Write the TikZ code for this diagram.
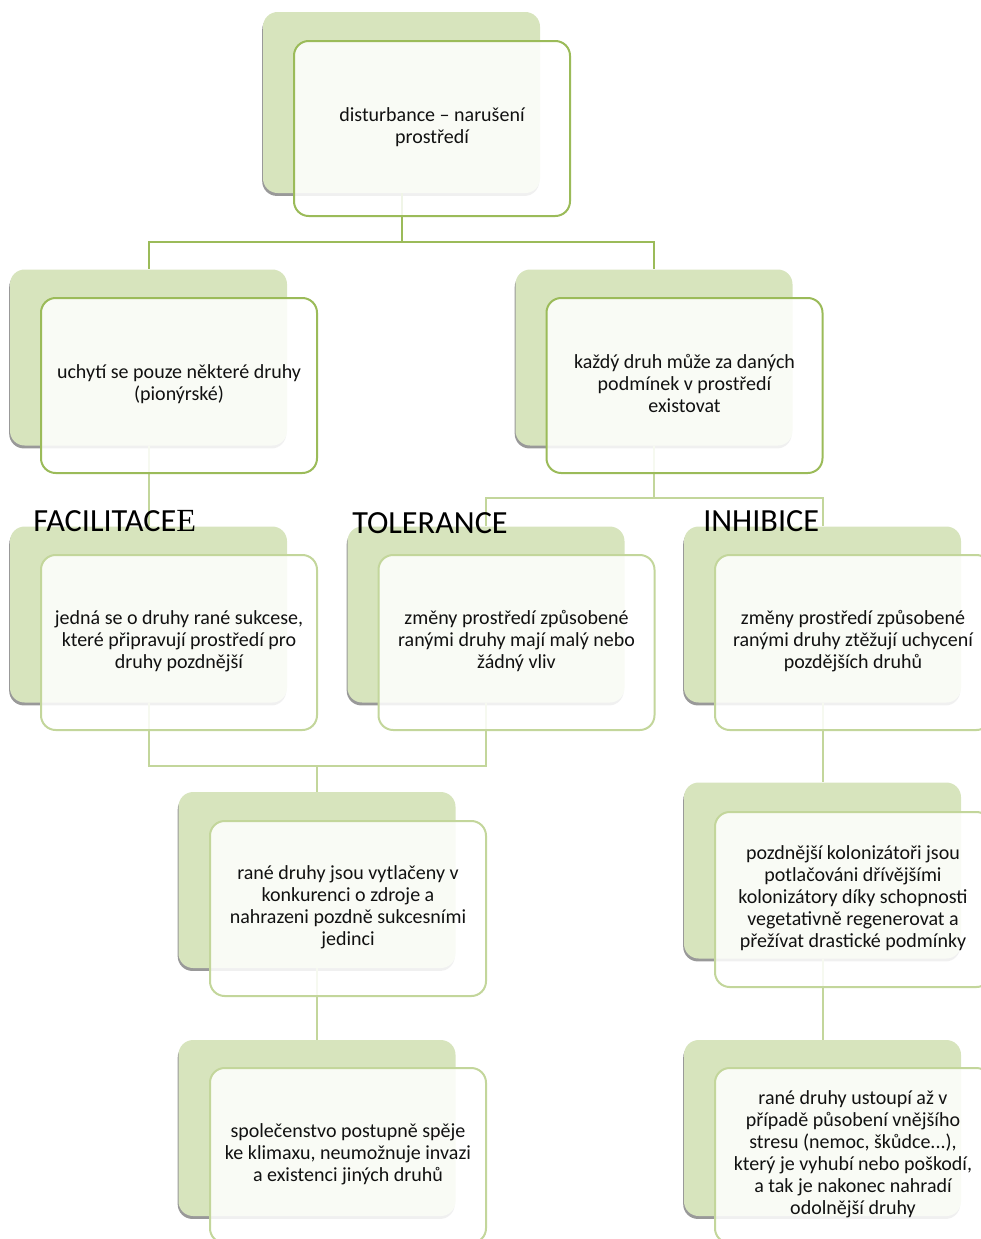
\documentclass[tikz,border=0pt]{standalone}
\usepackage{fontspec}
\setmainfont{Carlito}
\newfontfamily\serifE{Liberation Serif}
\usetikzlibrary{shadows}
\definecolor{backgreen}{HTML}{D7E4BD}
\definecolor{darkgreen}{HTML}{9BBB59}
\definecolor{lightgreen}{HTML}{C3D69B}
\definecolor{txt}{HTML}{111111}
\tikzset{
  backbox/.style={rectangle, rounded corners=11pt, fill=backgreen, draw=none,
    minimum width=207.75pt, minimum height=132pt, inner sep=0pt,
    drop shadow={shadow xshift=-0.6pt, shadow yshift=-2.2pt, fill=black!40, opacity=1}},
  frontbox/.style={rectangle, rounded corners=11pt, draw=#1, line width=1.5pt,
    fill=white, fill opacity=0.86,
    minimum width=207pt, minimum height=131.25pt, inner sep=0pt},
  frontbox/.default=lightgreen,
  bodytext/.style={inner sep=0pt, align=center, text=txt,
    font=\fontsize{15}{16.5}\selectfont},
  conn/.style={draw=#1, line width=1.5pt},
  conn/.default=lightgreen,
  heading/.style={anchor=base west, inner sep=0pt, text=black, font=\fontsize{24.2}{28}\selectfont}
}
\begin{document}
\begin{tikzpicture}[x=0.75pt, y=-0.75pt]
\useasboundingbox (0,0) rectangle (981,1239);
\clip (0,0) rectangle (981,1239);
% back boxes
\node[backbox, minimum height=135.75pt] (b0) at (401.5,102.5) {};
\node[backbox] (b1) at (148.5,357.5) {};
\node[backbox] (b2) at (654,357.5) {};
\node[backbox] (b3) at (148.5,614.5) {};
\node[backbox] (b4) at (486,614.5) {};
\node[backbox] (b5) at (822.5,614.5) {};
\node[backbox] (b6) at (317,880) {};
\node[backbox] (b7) at (822.5,870.5) {};
\node[backbox] (b8) at (317,1128) {};
\node[backbox] (b9) at (822.5,1128) {};
% junctions
\coordinate (j0) at (401.5,242);
\coordinate (j1) at (654,498);
\coordinate (j2) at (317,766);
% connectors
\draw[conn=darkgreen] (b0.south) -- (j0) -| (b1.north);
\draw[conn=darkgreen] (j0) -| (b2.north);
\draw[conn] (b1.south) -- (b3.north);
\draw[conn] (b2.south) -- (j1) -| (b4.north);
\draw[conn] (j1) -| (b5.north);
\draw[conn] (b3.south) |- (j2);
\draw[conn] (b4.south) |- (j2);
\draw[conn] (j2) -- (b6.north);
\draw[conn] (b5.south) -- (b7.north);
\draw[conn] (b6.south) -- (b8.north);
\draw[conn] (b7.south) -- (b9.north);
% front boxes
\node[frontbox=darkgreen] (f0) at (432,128.5) {};
\node[frontbox=darkgreen] (f1) at (179,385.5) {};
\node[frontbox=darkgreen] (f2) at (684.5,385.5) {};
\node[frontbox] (f3) at (179,642.5) {};
\node[frontbox] (f4) at (516.5,642.5) {};
\node[frontbox] (f5) at (853,642.5) {};
\node[frontbox] (f6) at (348,908.5) {};
\node[frontbox] (f7) at (853,899.5) {};
\node[frontbox] (f8) at (348,1155.5) {};
\node[frontbox] (f9) at (853,1155.5) {};
% texts
\node[bodytext] (t0) at ([yshift=1.2pt]f0.center) {disturbance – narušení\\prostředí};
\node[bodytext] (t1) at ([yshift=1.2pt]f1.center) {uchytí se pouze některé druhy\\(pionýrské)};
\node[bodytext] (t2) at ([yshift=1.2pt]f2.center) {každý druh může za daných\\podmínek v prostředí\\existovat};
\node[bodytext] (t3) at ([yshift=1.2pt]f3.center) {jedná se o druhy rané sukcese,\\které připravují prostředí pro\\druhy pozdnější};
\node[bodytext] (t4) at ([yshift=1.2pt]f4.center) {změny prostředí způsobené\\ranými druhy mají malý nebo\\žádný vliv};
\node[bodytext] (t5) at ([yshift=1.2pt]f5.center) {změny prostředí způsobené\\ranými druhy ztěžují uchycení\\pozdějších druhů};
\node[bodytext] (t6) at ([yshift=1.2pt]f6.center) {rané druhy jsou vytlačeny v\\konkurenci o zdroje a\\nahrazeni pozdně sukcesními\\jedinci};
\node[bodytext] (t7) at ([yshift=1.2pt]f7.center) {pozdnější kolonizátoři jsou\\potlačováni dřívějšími\\kolonizátory díky schopnosti\\vegetativně regenerovat a\\přežívat drastické podmínky};
\node[bodytext] (t8) at ([yshift=1.2pt]f8.center) {společenstvo postupně spěje\\ke klimaxu, neumožnuje invazi\\a existenci jiných druhů};
\node[bodytext] (t9) at ([yshift=1.2pt]f9.center) {rané druhy ustoupí až v\\případě působení vnějšího\\stresu (nemoc, škůdce...),\\který je vyhubí nebo poškodí,\\a tak je nakonec nahradí\\odolnější druhy};
% headings
\node[heading] (h1) at (33,531) {FACILITACE{\serifE E}};
\node[heading] (h2) at (352,533) {TOLERANCE};
\node[heading] (h3) at (703,531) {INHIBICE};
\end{tikzpicture}
\end{document}
